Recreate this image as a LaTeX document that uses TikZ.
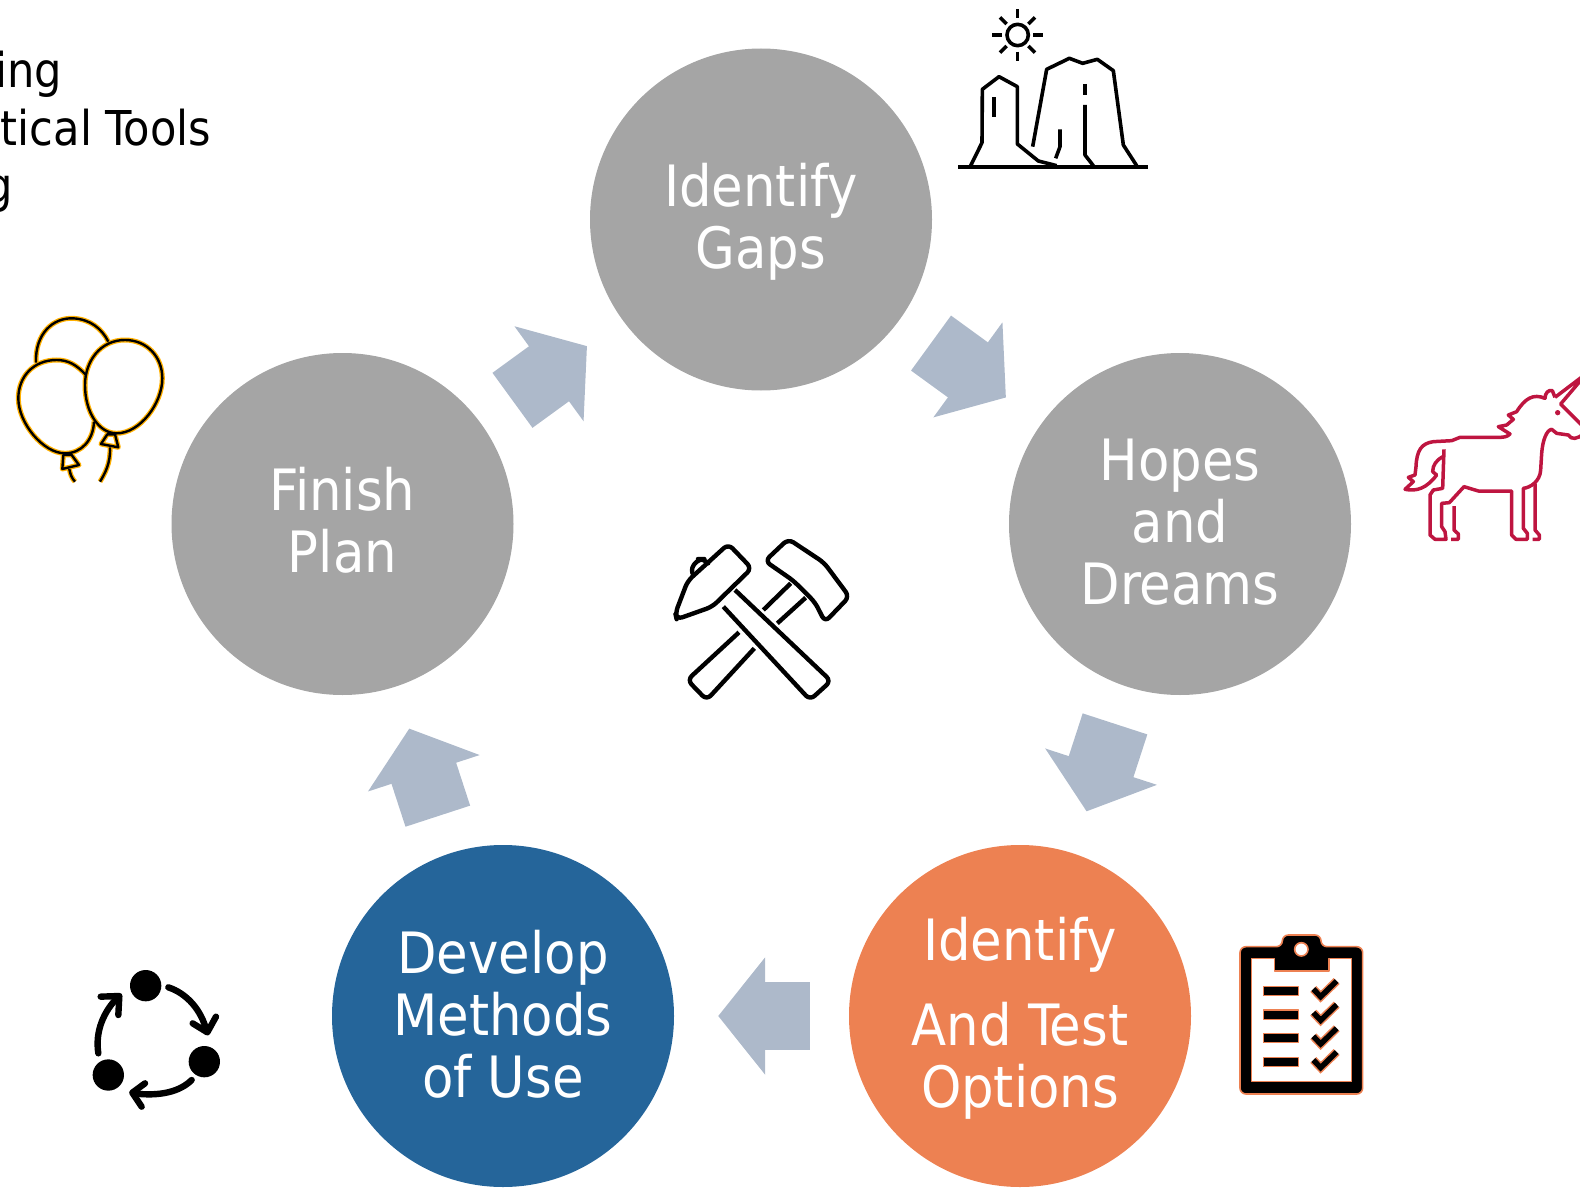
\documentclass[tikz,border=0pt]{standalone}
\usepackage{fontspec}
\setmainfont{DejaVu Sans Condensed}
\usetikzlibrary{arrows.meta}
\definecolor{stepgray}{HTML}{A5A5A5}
\definecolor{stepblue}{HTML}{25659A}
\definecolor{steporange}{HTML}{ED8152}
\definecolor{arrowblue}{HTML}{ADB9CA}
\definecolor{balloonorange}{HTML}{FFB000}
\definecolor{unicornred}{HTML}{BE1540}

\begin{document}
\begin{tikzpicture}[x=1pt, y=-1pt, line join=round,
    stepnode/.style={circle, inner sep=0pt, minimum size=342pt, align=center, text=white,
        font=\fontsize{57}{62}\selectfont},
    blockarrow/.style={draw=arrowblue, line width=68pt, -{Triangle[length=47pt,width=115pt]},
        shorten <=39pt, shorten >=44pt},
    cornertext/.style={anchor=base east, inner sep=0pt, font=\fontsize{48}{57}\selectfont},
    icon/.style={x=0.33333pt, y=-0.33333pt}]

        \useasboundingbox (0,0) rectangle (1580,1188);

        % Kreise
        \node[stepnode, fill=stepgray] at (761,219.5) (gaps) {\rule{0pt}{48pt}Identify\\Gaps};
        \node[stepnode, fill=stepgray] at (1180,524) (hopes) {Hopes\\and\\\rule[-4pt]{0pt}{0pt}Dreams};
        \node[stepnode, fill=steporange] at (1020,1016) (options) {\rule{0pt}{48pt}Identify\\[23pt]And Test\\Options};
        \node[stepnode, fill=stepblue] at (503,1016) (methods) {Develop\\Methods\\\rule[-4pt]{0pt}{0pt}of Use};
        \node[stepnode, fill=stepgray] at (342.5,524) (plan) {Finish\\\rule[-8pt]{0pt}{0pt}Plan};

        % Pfeile
        \draw[blockarrow] (plan) -- (gaps);
        \draw[blockarrow] (gaps) -- (hopes);
        \draw[blockarrow] (hopes) -- (options);
        \draw[blockarrow] (options) -- (methods);
        \draw[blockarrow] (methods) -- (plan);

        % Text oben links
        \node[cornertext] at (62,88) (lineone) {ing};
        \node[cornertext] at (211.5,146) (linetwo) {tical Tools};
        \node[cornertext] at (13,202) (linethree) {g};

        % Berge und Sonne
        \begin{scope}[shift={(940,0)}, icon, line width=3.6pt]
            \draw[line width=4pt] (55,502) -- (625,502);
            \draw (233,105) circle[radius=32];
            \draw (233,28) -- (233,55);
            \draw (233,155) -- (233,182);
            \draw (157,105) -- (185,105);
            \draw (280,105) -- (308,105);
            \draw (180,52) -- (200,72);
            \draw (285,52) -- (265,72);
            \draw (180,158) -- (200,138);
            \draw (285,158) -- (265,138);
            \draw (92,497) -- (126,428) -- (127,268) -- (177,230) -- (232,260) -- (232,432) -- (295,483) -- (350,497);
            \draw (162,292) -- (162,350);
            \draw (278,440) -- (320,208) -- (388,175) -- (428,190) -- (472,178) -- (520,212) -- (550,435) -- (590,497);
            \draw (435,252) -- (435,285);
            \draw (435,315) -- (435,465) -- (460,497);
            \draw (360,388) -- (360,440) -- (347,475);
        \end{scope}

        % Luftballons
        \begin{scope}[shift={(0,40)}, icon]
            \foreach \linecol/\linewd in {balloonorange/5pt, black/2.4pt} {
                \draw[\linecol, line width=\linewd] (108,968) .. controls (105,880) and (160,832) .. (220,835) .. controls (270,838) and (305,865) .. (325,905);
                \draw[\linecol, line width=\linewd] (258,1005) .. controls (230,975) and (205,960) .. (170,960) .. controls (100,960) and (55,1010) .. (55,1075) .. controls (55,1150) and (130,1240) .. (195,1240) .. controls (245,1240) and (280,1200) .. (282,1145);
                \draw[\linecol, line width=\linewd] (375,900) .. controls (300,900) and (255,965) .. (255,1035) .. controls (255,1115) and (295,1180) .. (350,1180) .. controls (420,1180) and (487,1090) .. (487,1015) .. controls (487,950) and (440,900) .. (375,900) -- cycle;
                \draw[\linecol, line width=\linewd] (190,1245) -- (215,1245) -- (237,1275) -- (187,1287) -- cycle;
                \draw[\linecol, line width=\linewd] (322,1183) -- (345,1183) -- (355,1222) -- (303,1212) -- cycle;
                \draw[\linecol, line width=\linewd] (208,1287) .. controls (210,1300) and (215,1315) .. (225,1325);
                \draw[\linecol, line width=\linewd] (330,1222) .. controls (332,1270) and (315,1300) .. (300,1325);
            }
        \end{scope}

        % Einhorn
        \begin{scope}[shift={(1390,360)}, icon, draw=unicornred, line width=3.5pt]
            \draw (495,112) -- (590,40) -- (512,132) -- (590,210);
            \draw (495,112) -- (487,92) .. controls (475,88) and (465,100) .. (465,115) .. controls (430,100) and (405,115) .. (380,155) -- (355,165) -- (370,178) -- (350,195) -- (325,200) -- (360,222) .. controls (350,232) and (340,232) .. (320,232) -- (210,232) -- (185,242) -- (130,245) .. controls (95,250) and (80,270) .. (78,320) -- (75,345) -- (55,352) -- (70,365) -- (45,388) .. controls (80,395) and (110,385) .. (140,345) -- (128,335) .. controls (128,315) and (140,300) .. (158,290);
            \draw (162,268) -- (158,385) -- (130,390) -- (120,405) -- (120,525) -- (135,538) -- (168,538) -- (165,515) -- (155,500) -- (155,430) -- (178,428) -- (222,380) -- (265,393) -- (365,393) -- (365,525) -- (378,538) -- (412,538) -- (412,520) -- (400,505) -- (400,385) .. controls (420,383) and (450,365) .. (452,330) -- (455,280) .. controls (458,240) and (470,210) .. (485,208) -- (500,220) -- (535,225) .. controls (545,240) and (560,238) .. (580,222);
            \draw (192,438) -- (192,510) -- (205,522) -- (205,538) -- (183,538);
            \draw (435,370) -- (435,510) -- (448,525) -- (448,538) -- (428,538);
            \fill[unicornred] (503,158) circle[radius=8];
        \end{scope}

        % Hammer
        \begin{scope}[shift={(660,525)}, icon, line width=4.4pt, rounded corners=6pt]
            \draw (205,57) -- (275,130) -- (157,245) -- (50,283) -- (46,265) -- (83,168) -- cycle;
            \draw (100,150) -- (90,135) -- (115,102) -- (132,102) -- (142,112);
            \draw (190,245) -- (450,525) -- (513,468) -- (225,195);
            \draw (385,42) -- (492,113) -- (568,215) -- (495,291) -- (465,232) -- (400,167) -- (315,108) -- cycle;
            \draw (392,175) -- (310,255);
            \draw (437,218) -- (352,295);
            \draw (237,322) -- (82,465) -- (140,525) -- (283,370);
        \end{scope}

        % Klemmbrett
        \begin{scope}[shift={(1225,925)}, icon, draw=steporange, line width=1.6pt]
            \draw[fill=black, rounded corners=6pt] (45,65) -- (172,65) -- (172,30) -- (288,30) -- (288,65) -- (413,65) -- (413,507) -- (45,507) -- cycle;
            \draw[fill=white] (80,100) -- (148,100) -- (148,138) -- (312,138) -- (312,100) -- (380,100) -- (380,470) -- (80,470) -- cycle;
            \draw[fill=white] (229,73) circle[radius=20];
            \draw[fill=black] (115,185) rectangle (220,212);
            \draw[fill=black] (115,255) rectangle (220,283);
            \draw[fill=black] (115,326) rectangle (220,353);
            \draw[fill=black] (115,397) rectangle (220,425);
            \foreach \linecol/\linewd in {steporange/8.4pt, black/5.4pt} {
                \draw[\linecol, line width=\linewd, line join=miter] (265,192) -- (287,215) -- (335,168);
                \draw[\linecol, line width=\linewd, line join=miter] (265,263) -- (287,286) -- (335,239);
                \draw[\linecol, line width=\linewd, line join=miter] (265,334) -- (287,357) -- (335,310);
                \draw[\linecol, line width=\linewd, line join=miter] (265,405) -- (287,428) -- (335,381);
            }
        \end{scope}

        % Kreislauf
        \begin{scope}[shift={(80,955)}, icon, line width=6.4pt, line cap=round]
            \fill (197,92) circle[radius=47];
            \fill (373,320) circle[radius=47];
            \fill (85,360) circle[radius=47];
            \draw (265,97) .. controls (320,115) and (365,165) .. (380,230);
            \draw (338,205) -- (382,232) -- (408,185);
            \draw (335,375) .. controls (300,410) and (240,425) .. (160,415);
            \draw (195,385) -- (157,413) -- (185,455);
            \draw (55,295) .. controls (45,230) and (70,170) .. (115,125);
            \draw (62,125) -- (118,123) -- (115,180);
        \end{scope}

    \end{tikzpicture}
\end{document}
